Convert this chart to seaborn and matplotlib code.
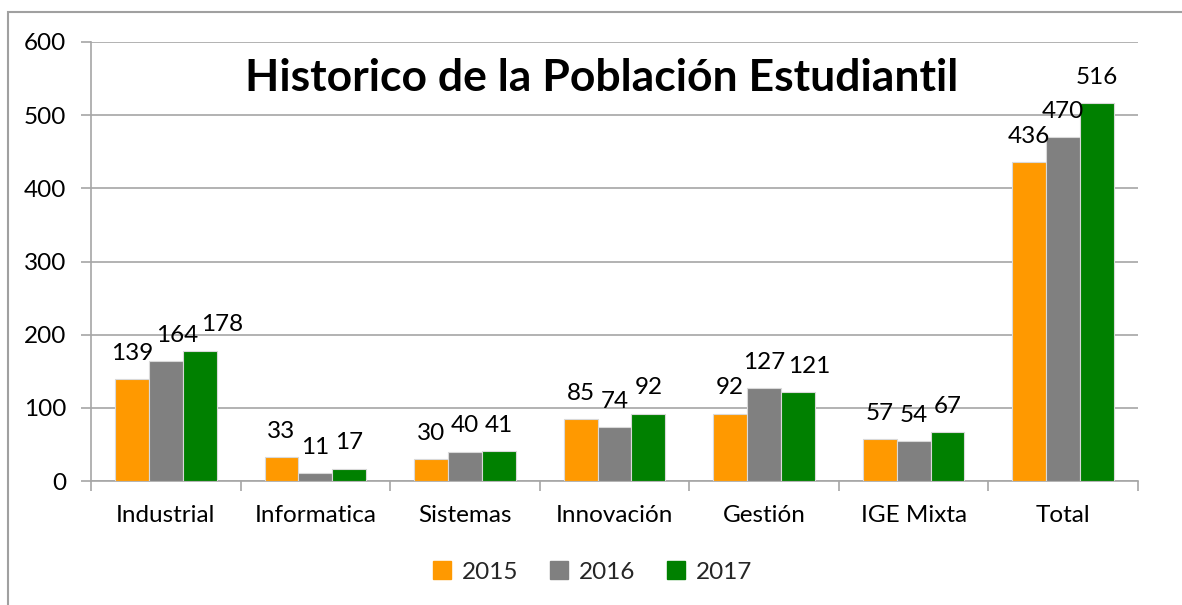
import pandas as pd
import seaborn as sns
import matplotlib.pyplot as plt
from matplotlib.patches import Rectangle
from matplotlib.lines import Line2D

categories = ["Industrial", "Informatica", "Sistemas", "Innovación", "Gestión", "IGE Mixta", "Total"]
years = ["2015", "2016", "2017"]
values_2015 = [139, 33, 30, 85, 92, 57, 436]
values_2016 = [164, 11, 40, 74, 127, 54, 470]
values_2017 = [178, 17, 41, 92, 121, 67, 516]
colors = ["#FF9900", "#808080", "#008000"]

rows = []
for year, vals in zip(years, [values_2015, values_2016, values_2017]):
    for cat, v in zip(categories, vals):
        rows.append({"Carrera": cat, "Año": year, "Alumnos": v})
df = pd.DataFrame(rows)

sns.set_style("white")
plt.rcParams["font.family"] = ["Lato", "DejaVu Sans"]
FS = 17.5
DPI = 100

fig = plt.figure(figsize=(11.82, 6.05), dpi=DPI)
ax = fig.add_axes([91 / 1182, 1 - 481 / 605, (1138 - 91) / 1182, (481 - 42) / 605])

sns.barplot(data=df, x="Carrera", y="Alumnos", hue="Año", palette=colors,
            saturation=1, width=0.68, gap=0, edgecolor="#d9d9d9", linewidth=0.8,
            ax=ax, legend=False, zorder=3)

labels = []
for container in ax.containers:
    labels.append(ax.bar_label(container, padding=11, fontsize=FS, color="#000000"))

ax.set_ylim(0, 600)
ax.set_xlim(-0.5, len(categories) - 0.5)
ax.set_yticks(range(0, 601, 100))
ax.yaxis.grid(True, color="#a6a6a6", linewidth=1.2, zorder=0)
ax.set_xlabel("")
ax.set_ylabel("")

for s in ["top", "right"]:
    ax.spines[s].set_visible(False)
for s in ["left", "bottom"]:
    ax.spines[s].set_color("#a6a6a6")
    ax.spines[s].set_linewidth(1.2)

ax.tick_params(axis="y", which="major", left=True, length=7, width=1.2,
               color="#a6a6a6", labelsize=FS, labelcolor="#000000", pad=11)
ax.tick_params(axis="x", which="major", bottom=False, labelsize=FS,
               labelcolor="#000000", pad=14)
ax.set_xticks([i - 0.5 for i in range(len(categories) + 1)], minor=True)
ax.tick_params(axis="x", which="minor", bottom=True, length=7, width=1.2,
               color="#a6a6a6")

fig.text(602 / 1182, 1 - 78 / 605, "Historico de la Población Estudiantil",
         ha="center", va="center", fontsize=32, fontweight="bold", color="#000000")

handles = [Line2D([0], [0], marker="s", linestyle="", markersize=13,
                  markerfacecolor=c, markeredgecolor=c) for c in colors]
fig.legend(handles, years, loc="center", bbox_to_anchor=(0.5, 1 - 572 / 605),
           ncol=3, frameon=False, fontsize=FS, handletextpad=0.3,
           columnspacing=1.2, handlelength=1.0)

fig.patches.append(Rectangle((8 / 1182, -0.1), 1.2, 1 - 12 / 605 + 0.1,
                             transform=fig.transFigure, fill=False,
                             edgecolor="#a0a0a0", linewidth=1.5))

# separar etiquetas que se pisan (como hace Excel)
fig.canvas.draw()
renderer = fig.canvas.get_renderer()
px2pt = 72 / DPI
for j in range(len(categories)):
    group = [labels[k][j] for k in range(len(years))]
    for k in range(1, len(group)):
        prev = group[k - 1].get_window_extent(renderer)
        cur = group[k].get_window_extent(renderer)
        overlap_x = prev.x1 + 3 - cur.x0
        overlap_y = min(prev.y1, cur.y1) - max(prev.y0, cur.y0)
        if overlap_x > 0 and overlap_y > 0:
            dx, dy = group[k].xyann
            group[k].xyann = (dx + overlap_x * px2pt, dy)
            fig.canvas.draw()

fig.savefig("out.png", dpi=DPI)
